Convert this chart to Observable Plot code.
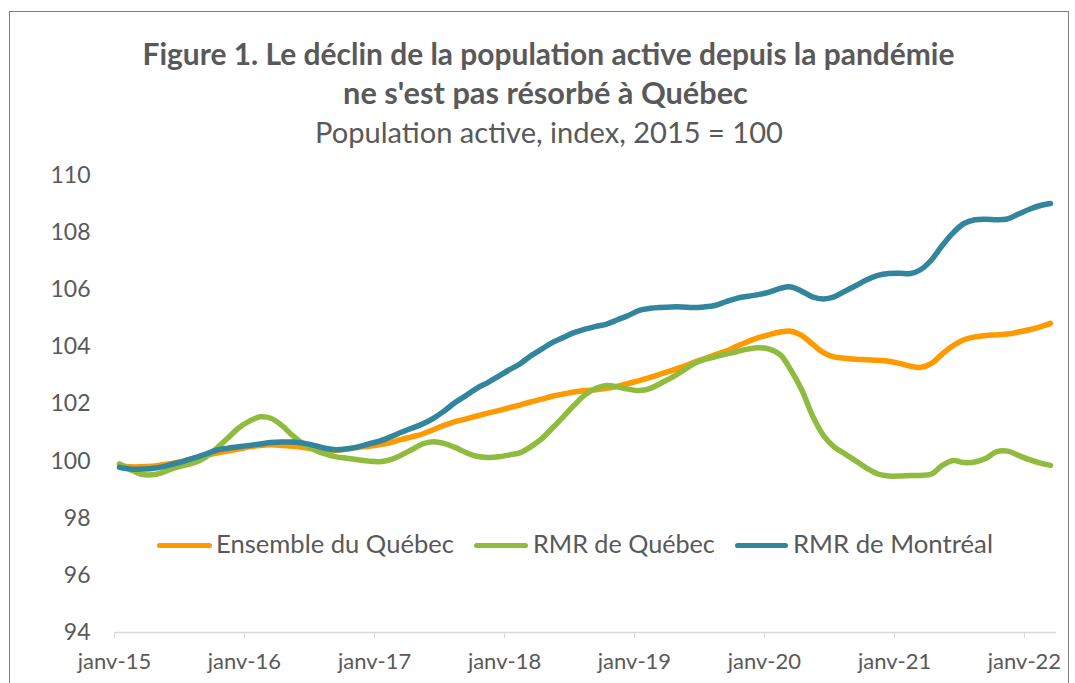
<!DOCTYPE html>
<html><head><meta charset="utf-8">
<script src="https://cdn.jsdelivr.net/npm/d3@7"></script>
<script src="https://cdn.jsdelivr.net/npm/@observablehq/plot@0.6"></script>
<style>
body{margin:0;background:#fff;width:1075px;height:683px;overflow:hidden;position:relative;font-family:Lato,"Open Sans",sans-serif;color:#595959}
#frame{position:absolute;left:9px;top:11px;width:1058px;height:720px;border:1.5px solid #7f7f7f;}
.t{position:absolute;white-space:nowrap;line-height:1.2;}
.sw{position:absolute;height:5px;border-radius:3px;}
#chart{position:absolute;left:0;top:0}
</style></head><body>
<div id="frame"></div>
<div id="chart"></div>
<div class="t" id="t1" style="font-weight:700">Figure 1. Le déclin de la population active depuis la pandémie</div>
<div class="t" id="t2" style="font-weight:700">ne s'est pas résorbé à Québec</div>
<div class="t" id="t3">Population active, index, 2015 = 100</div>
<div id="legend"></div>
<script>
// ---- Data (monthly, janv-2015 .. mars-2022) ----
const startYear = 2015, startMonth = 0, nMonths = 87;
const ensembleQuebec = [
 99.85,99.80,99.80,99.82,99.87,99.93,100.00,100.10,100.20,100.28,100.35,100.42,
 100.50,100.55,100.57,100.55,100.52,100.48,100.42,100.38,100.38,100.42,100.48,100.52,
 100.57,100.65,100.75,100.85,100.95,101.10,101.25,101.38,101.48,101.58,101.68,101.77,
 101.87,101.97,102.07,102.17,102.27,102.35,102.42,102.47,102.50,102.55,102.62,102.72,
 102.82,102.93,103.05,103.17,103.30,103.45,103.58,103.72,103.85,104.02,104.18,104.32,
 104.43,104.52,104.55,104.40,104.10,103.80,103.65,103.60,103.57,103.55,103.53,103.50,
 103.42,103.32,103.28,103.42,103.75,104.05,104.25,104.35,104.40,104.42,104.45,104.52,
 104.60,104.70,104.82];
const rmrQuebec = [
 99.90,99.70,99.55,99.52,99.60,99.75,99.85,99.95,100.15,100.45,100.80,101.15,
 101.40,101.55,101.50,101.25,100.90,100.60,100.40,100.25,100.15,100.10,100.05,100.00,
 99.98,100.05,100.20,100.40,100.60,100.68,100.62,100.48,100.30,100.17,100.13,100.15,
 100.22,100.30,100.50,100.78,101.15,101.55,101.95,102.32,102.55,102.65,102.60,102.52,
 102.47,102.55,102.72,102.92,103.15,103.40,103.55,103.65,103.75,103.83,103.92,103.97,
 103.92,103.72,103.20,102.50,101.60,100.90,100.50,100.25,100.00,99.75,99.55,99.48,
 99.48,99.50,99.50,99.55,99.85,100.02,99.95,99.97,100.10,100.33,100.35,100.20,
 100.05,99.93,99.85];
const rmrMontreal = [
 99.78,99.72,99.72,99.74,99.80,99.90,100.00,100.12,100.25,100.38,100.45,100.50,
 100.55,100.60,100.65,100.67,100.67,100.63,100.55,100.45,100.40,100.43,100.50,100.60,
 100.70,100.85,101.00,101.15,101.30,101.50,101.75,102.05,102.30,102.55,102.75,102.97,
 103.20,103.42,103.68,103.92,104.15,104.33,104.50,104.62,104.72,104.80,104.95,105.10,
 105.28,105.35,105.38,105.40,105.40,105.38,105.40,105.45,105.58,105.70,105.77,105.83,
 105.92,106.05,106.10,105.95,105.75,105.68,105.75,105.95,106.15,106.35,106.50,106.57,
 106.58,106.57,106.70,107.05,107.55,108.00,108.32,108.45,108.47,108.45,108.48,108.65,
 108.82,108.95,109.02];
const seriesNames = ["Ensemble du Québec","RMR de Québec","RMR de Montréal"];
const seriesColors = ["#FF9900","#8FBC3F","#31859C"];
const xTickYears = [2015,2016,2017,2018,2019,2020,2021,2022];
const xTickLabels = ["janv-15","janv-16","janv-17","janv-18","janv-19","janv-20","janv-21","janv-22"];
const yTicks = [94,96,98,100,102,104,106,108,110];

// ---- build table ----
const months = d3.range(nMonths).map(i => new Date(Date.UTC(startYear, startMonth + i, 15)));
const seriesValues = [ensembleQuebec, rmrQuebec, rmrMontreal];
const rows = [];
seriesValues.forEach((vals, s) => vals.forEach((v, i) => rows.push({date: months[i], value: v, series: seriesNames[s]})));
const xTicks = xTickYears.map(y => new Date(Date.UTC(y, 0, 1)));
const labelOf = new Map(xTicks.map((d, i) => [+d, xTickLabels[i]]));

const chart = Plot.plot({
  width: 1075, height: 683,
  marginTop: 175, marginBottom: 51, marginLeft: 114, marginRight: 19,
  style: {fontFamily: "Lato, 'Open Sans', sans-serif", background: "transparent", overflow: "visible"},
  x: {type: "utc", domain: [new Date(Date.UTC(2015,0,1)), new Date(Date.UTC(2022,3,1))]},
  y: {domain: [94, 110]},
  color: {domain: seriesNames, range: seriesColors},
  marks: [
    Plot.ruleY([94], {stroke: "#d9d9d9", strokeWidth: 1.5}),
    Plot.axisX({ticks: xTicks, tickFormat: d => labelOf.get(+d), tickSize: 6, tickPadding: 15,
      stroke: "#d9d9d9", fill: "#595959", fontSize: 22, label: null}),
    Plot.axisY({ticks: yTicks, tickSize: 0, tickPadding: 24, fill: "#595959", fontSize: 23, label: null}),
    Plot.line(rows, {x: "date", y: "value", z: "series", stroke: "series", strokeWidth: 5.5,
      curve: "catmull-rom", strokeLinecap: "round", strokeLinejoin: "round"})
  ]
});
document.getElementById("chart").appendChild(chart);

// ---- text layout helpers ----
function fitText(el, targetWidth, base) {
  el.style.fontSize = base + "px";
  const w = el.getBoundingClientRect().width;
  const fs = base * targetWidth / w;
  el.style.fontSize = fs + "px";
  return fs;
}
function baselineOf(el) {
  const m = document.createElement("span");
  m.style.cssText = "display:inline-block;width:0;height:0;vertical-align:baseline";
  el.appendChild(m);
  const b = m.offsetTop;
  el.removeChild(m);
  return b;
}
function placeCentered(id, cx, baseline, width, base) {
  const el = document.getElementById(id);
  fitText(el, width, base);
  const r = el.getBoundingClientRect();
  el.style.left = (cx - r.width / 2) + "px";
  el.style.top = "0px";
  el.style.top = (baseline - baselineOf(el)) + "px";
}
placeCentered("t1", 548.5, 65, 812, 27);
placeCentered("t2", 545.5, 104, 405, 27);
placeCentered("t3", 549, 143, 468, 26);

// legend
const legend = document.getElementById("legend");
const legendItems = [
  {sw: [157, 212], tx: 216, w: 238},
  {sw: [474, 528], tx: 533, w: 182},
  {sw: [735, 788], tx: 793, w: 200}
];
legendItems.forEach((it, i) => {
  const s = document.createElement("div");
  s.className = "sw";
  s.style.left = it.sw[0] + "px"; s.style.width = (it.sw[1] - it.sw[0]) + "px";
  s.style.top = "543px"; s.style.background = seriesColors[i];
  legend.appendChild(s);
  const t = document.createElement("div");
  t.className = "t"; t.textContent = seriesNames[i];
  legend.appendChild(t);
  fitText(t, it.w, 24);
  t.style.left = it.tx + "px"; t.style.top = "0px";
  t.style.top = (553 - baselineOf(t)) + "px";
});
</script>
</body></html>
